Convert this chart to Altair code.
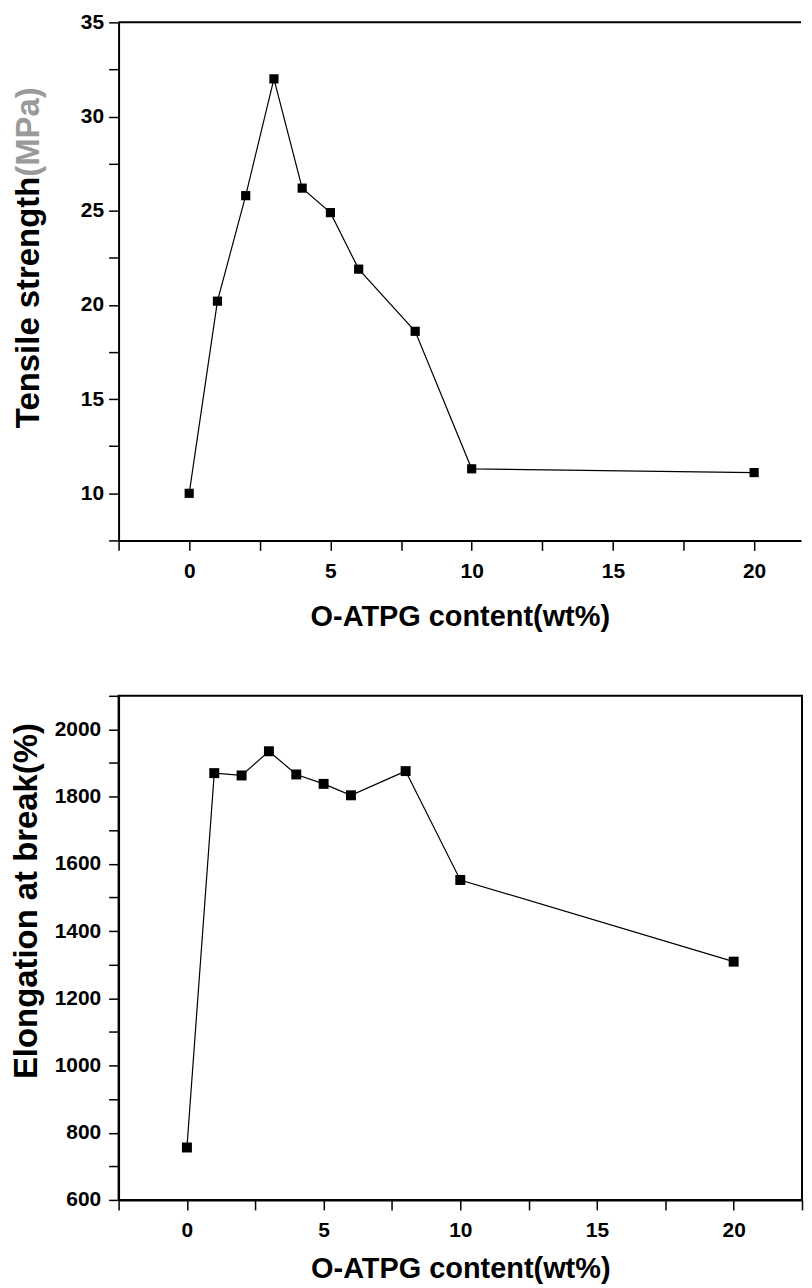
import altair as alt
import pandas as pd

# ---- data ----
content = [0, 1, 2, 3, 4, 5, 6, 8, 10, 20]
tensile = [10.0, 20.2, 25.8, 32.0, 26.2, 24.9, 21.9, 18.6, 11.3, 11.1]
elongation = [756, 1870, 1863, 1935, 1866, 1838, 1804, 1876, 1552, 1309]

x_ticks_top = [-2.5, 0, 2.5, 5, 7.5, 10, 12.5, 15, 17.5, 20]
x_ticks_bottom = [-2.5, 0, 2.5, 5, 7.5, 10, 12.5, 15, 17.5, 20, 22.5]
y_ticks_top = [7.5, 10, 12.5, 15, 17.5, 20, 22.5, 25, 27.5, 30, 32.5, 35]
y_ticks_bottom = [600, 700, 800, 900, 1000, 1100, 1200, 1300, 1400, 1500,
                  1600, 1700, 1800, 1900, 2000, 2100]

x_title = "O-ATPG content(wt%)"
top_title_main = ["Tensile strength"]
top_title_unit = ["(MPa)"]
bottom_title = ["Elongation at break(%)"]

FONT = "Liberation Sans, Arial, Helvetica, sans-serif"

df_top = pd.DataFrame({"content": content, "value": tensile})
df_bot = pd.DataFrame({"content": content, "value": elongation})

TOP_W, TOP_H = 685, 520
BOT_W, BOT_H = 686, 506


def x_axis(values, title_pad):
    return alt.Axis(values=values, title=x_title, format=".1f",
                    labelExpr="datum.value % 5 === 0 ? format(datum.value, 'd') : ''",
                    labelPadding=10, titlePadding=title_pad)


# ---------- top panel ----------
base_top = alt.Chart(df_top).encode(
    x=alt.X("content:Q",
            scale=alt.Scale(domain=[-2.5, 21.66], nice=False, zero=False),
            axis=x_axis(x_ticks_top, 21)),
    y=alt.Y("value:Q",
            scale=alt.Scale(domain=[7.5, 35], nice=False, zero=False),
            axis=alt.Axis(values=y_ticks_top, title=None, labelPadding=5,
                          labelExpr="datum.value % 5 === 0 ? format(datum.value, 'd') : ''")),
)
line_top = base_top.mark_line(color="black", strokeWidth=1.2)
pts_top = base_top.mark_square(size=85, color="black", opacity=1)
border_top = alt.Chart(pd.DataFrame({"k": [0]})).mark_rule(
    color="black", strokeWidth=2).encode(
    x=alt.value(0), x2=alt.value("width"), y=alt.value(0))
title_top_main = alt.Chart(pd.DataFrame({"t": top_title_main})).mark_text(
    angle=270, align="right", baseline="middle", font=FONT, fontSize=33,
    fontWeight="bold", color="black").encode(
    x=alt.value(-90), y=alt.value(155), text="t:N")
title_top_unit = alt.Chart(pd.DataFrame({"t": top_title_unit})).mark_text(
    angle=270, align="left", baseline="middle", font=FONT, fontSize=33,
    fontWeight="bold", color="#9a9a9a").encode(
    x=alt.value(-90), y=alt.value(155), text="t:N")

top = alt.layer(border_top, line_top, pts_top, title_top_main, title_top_unit).properties(
    width=TOP_W, height=TOP_H,
    view=alt.ViewBackground(stroke="transparent"))

# ---------- bottom panel ----------
base_bot = alt.Chart(df_bot).encode(
    x=alt.X("content:Q",
            scale=alt.Scale(domain=[-2.5, 22.5], nice=False, zero=False),
            axis=x_axis(x_ticks_bottom, 14)),
    y=alt.Y("value:Q",
            scale=alt.Scale(domain=[600, 2100], nice=False, zero=False),
            axis=alt.Axis(values=y_ticks_bottom, title=None, labelPadding=8,
                          labelExpr="datum.value % 200 === 0 ? format(datum.value, 'd') : ''")),
)
line_bot = base_bot.mark_line(color="black", strokeWidth=1.2)
pts_bot = base_bot.mark_square(size=100, color="black", opacity=1)
title_bot = alt.Chart(pd.DataFrame({"t": bottom_title})).mark_text(
    angle=270, align="center", baseline="middle", font=FONT, fontSize=33,
    fontWeight="bold", color="black").encode(
    x=alt.value(-92), y=alt.value(206), text="t:N")

bottom = alt.layer(line_bot, pts_bot, title_bot).properties(
    width=BOT_W, height=BOT_H,
    view=alt.ViewBackground(stroke="black", strokeWidth=2))

chart = alt.concat(top, bottom, columns=1, align="none", spacing=62).properties(
    padding={"left": 1, "top": 0, "right": 0, "bottom": 0},
    background="white",
).configure_axis(
    domainColor="black", domainWidth=2, tickColor="black", tickWidth=1.5,
    tickSize=10, labelFont=FONT, labelFontSize=21, labelFontWeight="bold",
    labelColor="black", titleFont=FONT, titleFontSize=29, titleFontWeight="bold",
    titleColor="black", grid=False,
)

chart.save("out.html", embed_options={"renderer": "svg", "actions": False})
